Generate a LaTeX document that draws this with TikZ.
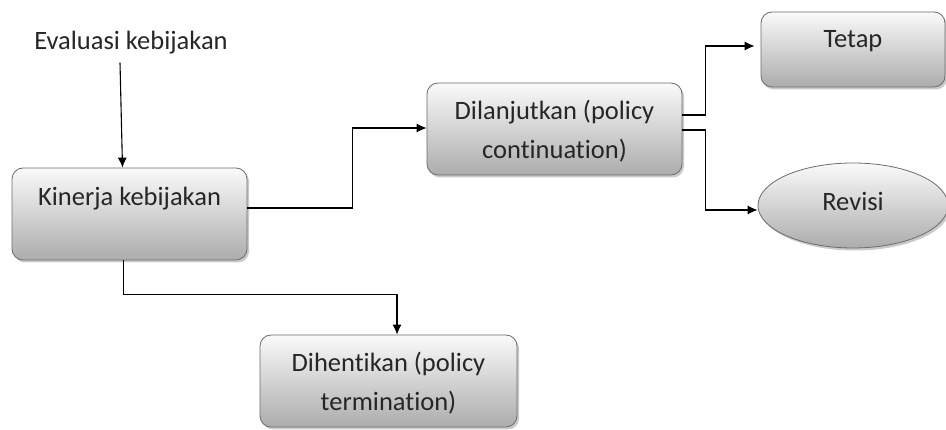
\documentclass[tikz,border=0pt]{standalone}
\usepackage{fontspec}
\setmainfont{Carlito}[Ligatures=NoCommon]
\usetikzlibrary{shadows,arrows.meta,shapes.geometric}
\begin{document}
\begin{tikzpicture}[x=1pt,y=-1pt,
  boxstyle/.style={draw=gray!85!black, line width=0.8pt, rounded corners=11pt,
    top color=white!96!gray, bottom color=gray!65, shading angle=0,
    drop shadow={shadow xshift=2pt, shadow yshift=-2.5pt, opacity=0.35, fill=black!60},
    inner sep=0pt},
  ellstyle/.style={boxstyle, rounded corners=0pt, ellipse},
  txt/.style={font=\fontsize{26.5}{39.5}\selectfont, text=black!85, align=center, inner sep=0pt},
  arr/.style={line width=1.1pt, -{Latex[length=10pt,width=9pt]}}]
\useasboundingbox (0,0) rectangle (946,430);

% boxes
\node[boxstyle, minimum width=235pt, minimum height=92pt] (kin) at (129.5,214) {};
\node[boxstyle, minimum width=255pt, minimum height=92pt] (dil) at (554.5,129) {};
\node[boxstyle, minimum width=184pt, minimum height=75pt] (tet) at (853,49.5) {};
\node[ellstyle, minimum width=190pt, minimum height=85pt] (rev) at (853,205.5) {};
\node[boxstyle, minimum width=257pt, minimum height=92pt] (dih) at (388.5,381) {};

% texts
\node[txt] (evl) at (131,43) {Evaluasi kebijakan};
\node[txt] (kint) at (129.5,199) {Kinerja kebijakan};
\node[txt] (dilt) at (554.5,131) {Dilanjutkan (policy\\continuation)};
\node[txt] (tett) at (853,41) {Tetap};
\node[txt] (revt) at (853,201) {Revisi};
\node[txt] (diht) at (388.5,383) {Dihentikan (policy\\termination)};

% connectors
\draw[arr] ([xshift=-11pt,yshift=-8pt]evl.south) -- ([xshift=-7pt]kin.north);
\draw[arr] ([yshift=6pt]kin.east) -- ++(105,0) |- ([yshift=1pt]dil.west);
\draw[arr] ([xshift=-6pt]kin.south) -- ++(0,34) -| ([xshift=8.5pt]dih.north);
\draw[arr] ([yshift=14pt]dil.east) -- ++(23,0) |- ([yshift=3.5pt,xshift=-6pt]tet.west);
\draw[arr] ([yshift=-1pt]dil.east) -- ++(23,0) |- ([yshift=-4.5pt]rev.west);
\end{tikzpicture}
\end{document}
